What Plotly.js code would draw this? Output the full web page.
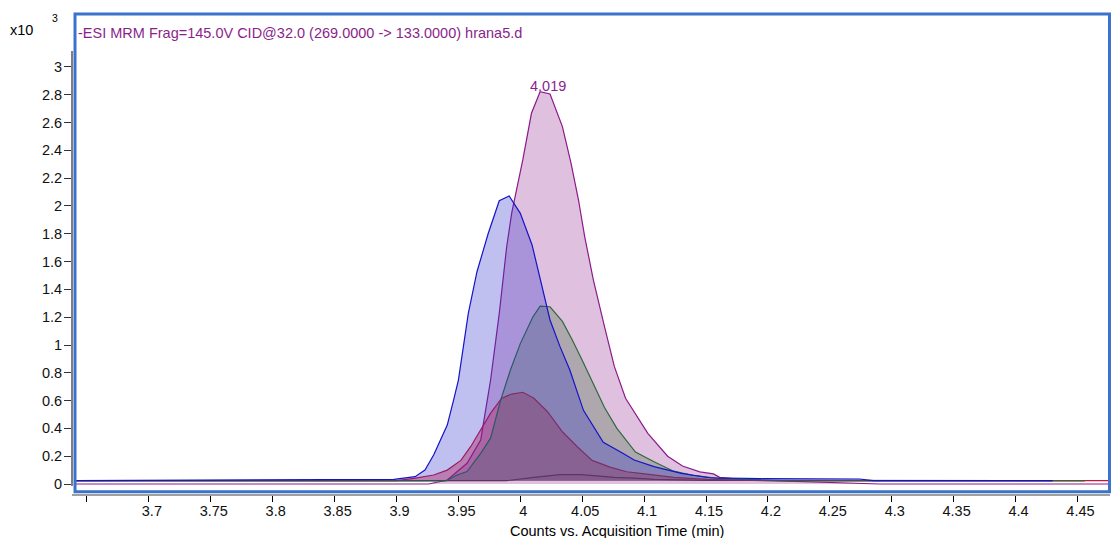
<!DOCTYPE html>
<html>
<head>
<meta charset="utf-8">
<script src="https://cdn.plot.ly/plotly-3.0.1.min.js"></script>
<style>
  html, body { margin: 0; padding: 0; background: #fff; }
  #chart { width: 1112px; height: 538px; }
</style>
</head>
<body>
<div id="chart"></div>
<script>
// ---- data (time in min, counts in x10^3) ----
const titleText = "-ESI MRM Frag=145.0V CID@32.0 (269.0000 -> 133.0000) hrana5.d";
const peakLabel = "4.019";
const peakRT = 4.019;
const xTitle = "Counts vs. Acquisition Time (min)";

const xTickVals = [3.65, 3.7, 3.75, 3.8, 3.85, 3.9, 3.95, 4.0, 4.05, 4.1, 4.15, 4.2, 4.25, 4.3, 4.35, 4.4, 4.45];
const xTickText = ["", "3.7", "3.75", "3.8", "3.85", "3.9", "3.95", "4", "4.05", "4.1", "4.15", "4.2", "4.25", "4.3", "4.35", "4.4", "4.45"];
const yTickVals = [0, 0.2, 0.4, 0.6, 0.8, 1.0, 1.2, 1.4, 1.6, 1.8, 2.0, 2.2, 2.4, 2.6, 2.8, 3.0];
const yTickText = ["0", "0.2", "0.4", "0.6", "0.8", "1", "1.2", "1.4", "1.6", "1.8", "2", "2.2", "2.4", "2.6", "2.8", "3"];

const magX = [3.640, 3.926, 3.941, 3.957, 3.968, 3.973, 3.976, 3.983, 3.989, 3.993, 3.997, 4.002, 4.009, 4.016, 4.024, 4.034, 4.041, 4.047, 4.052, 4.059, 4.068, 4.076, 4.085, 4.103, 4.119, 4.131, 4.145, 4.156, 4.161, 4.180, 4.290, 4.478];
const magY = [0.000, 0.000, 0.029, 0.149, 0.317, 0.600, 0.748, 1.228, 1.707, 1.947, 2.120, 2.331, 2.667, 2.822, 2.806, 2.571, 2.307, 2.043, 1.780, 1.468, 1.132, 0.844, 0.617, 0.365, 0.200, 0.129, 0.087, 0.073, 0.048, 0.031, 0.000, 0.000];
const magBase = 0.0;

const darkX = [3.640, 3.989, 4.011, 4.024, 4.032, 4.049, 4.060, 4.076, 4.092, 4.108, 4.150, 4.430];
const darkY = [0.024, 0.024, 0.048, 0.062, 0.067, 0.067, 0.058, 0.048, 0.043, 0.034, 0.026, 0.024];
const darkBase = 0.024;

const redX = [3.640, 3.900, 3.914, 3.930, 3.941, 3.952, 3.960, 3.968, 3.976, 3.985, 3.993, 4.002, 4.011, 4.022, 4.034, 4.046, 4.058, 4.073, 4.086, 4.097, 4.108, 4.124, 4.151, 4.200, 4.478];
const redY = [0.024, 0.024, 0.041, 0.065, 0.100, 0.170, 0.270, 0.390, 0.510, 0.617, 0.647, 0.660, 0.617, 0.520, 0.376, 0.268, 0.170, 0.120, 0.088, 0.077, 0.065, 0.048, 0.034, 0.024, 0.024];
const redBase = 0.024;

const greenX = [3.640, 3.940, 3.949, 3.957, 3.968, 3.976, 3.984, 3.992, 4.000, 4.010, 4.016, 4.024, 4.034, 4.042, 4.050, 4.059, 4.068, 4.078, 4.093, 4.108, 4.123, 4.139, 4.158, 4.186, 4.220, 4.456];
const greenY = [0.022, 0.022, 0.065, 0.090, 0.220, 0.330, 0.600, 0.820, 1.010, 1.200, 1.280, 1.275, 1.170, 1.036, 0.890, 0.720, 0.550, 0.400, 0.230, 0.160, 0.095, 0.063, 0.043, 0.031, 0.022, 0.022];
const greenBase = 0.022;

const blueX = [3.640, 3.898, 3.915, 3.923, 3.930, 3.941, 3.946, 3.950, 3.958, 3.965, 3.974, 3.983, 3.991, 4.000, 4.0095, 4.016, 4.024, 4.032, 4.040, 4.051, 4.067, 4.081, 4.092, 4.108, 4.130, 4.153, 4.194, 4.274, 4.285, 4.430];
const blueY = [0.024, 0.034, 0.053, 0.100, 0.209, 0.424, 0.600, 0.748, 1.228, 1.527, 1.800, 2.038, 2.072, 1.947, 1.720, 1.468, 1.180, 0.990, 0.820, 0.530, 0.300, 0.230, 0.173, 0.125, 0.077, 0.045, 0.038, 0.036, 0.024, 0.024];
const blueBase = 0.024;

// ---- styles ----
const series = [
  {x: magX,   y: magY,   base: magBase,   line: "#8b1a8b", fill: "rgba(150,50,150,0.30)"},
  {x: darkX,  y: darkY,  base: darkBase,  line: "#4a2848", fill: "rgba(60,30,60,0.15)"},
  {x: redX,   y: redY,   base: redBase,   line: "#c8143c", fill: "rgba(231,23,37,0.40)"},
  {x: greenX, y: greenY, base: greenBase, line: "#2d6a3a", fill: "rgba(64,112,64,0.30)"},
  {x: blueX,  y: blueY,  base: blueBase,  line: "#1414c8", fill: "rgba(45,45,205,0.30)"}
];

const traces = [];
series.forEach(s => {
  const x0 = s.x[0], x1 = s.x[s.x.length - 1];
  traces.push({type: "scatter", mode: "lines", x: [x0, x1], y: [s.base, s.base],
    line: {width: 0, color: "rgba(0,0,0,0)"}, hoverinfo: "skip", showlegend: false});
  traces.push({type: "scatter", mode: "lines", x: s.x, y: s.y, fill: "tonexty",
    fillcolor: s.fill, line: {color: s.line, width: 1.2}, showlegend: false});
});

const purple = "#8b1f8b";
const font = "Liberation Sans, Arial, sans-serif";
const fs = 14.5;

const layout = {
  width: 1112, height: 538,
  margin: {l: 72, r: 2, t: 15, b: 44},
  paper_bgcolor: "#fff", plot_bgcolor: "#fff",
  showlegend: false,
  font: {family: font, size: fs, color: "#000"},
  xaxis: {
    range: [3.6379, 4.4763],
    tickvals: xTickVals, ticktext: xTickText,
    ticks: "outside", ticklen: 6, tickwidth: 1, tickcolor: "#000",
    showline: true, linecolor: "#a0a0a0", linewidth: 2,
    showgrid: false, zeroline: false,
    ticklabelshift: 3, ticklabelstandoff: -3,
    tickfont: {family: font, size: fs, color: "#111"}
  },
  yaxis: {
    range: [-0.0719, 3.374],
    tickvals: yTickVals, ticktext: yTickText,
    ticks: "outside", ticklen: 7, tickwidth: 1, tickcolor: "#333",
    showline: false, showgrid: false, zeroline: false,
    ticklabelstandoff: -1,
    tickfont: {family: font, size: fs, color: "#111"}
  },
  shapes: [
    {type: "line", xref: "paper", yref: "y", x0: 0, x1: 0, y0: -0.014, y1: 3.115,
     line: {color: "#000", width: 1}},
    {type: "rect", xref: "paper", yref: "paper", x0: 0.0029, x1: 0.9995, y0: 0.0048, y1: 1.002,
     line: {color: "#3b72cc", width: 3}, fillcolor: "rgba(0,0,0,0)"}
  ],
  annotations: [
    {text: "x10", xref: "paper", yref: "paper", x: -0.0617, y: 0.9687, xanchor: "left", yanchor: "middle",
     showarrow: false, font: {family: font, size: fs, color: "#000"}},
    {text: "3", xref: "paper", yref: "paper", x: -0.0212, y: 0.9937, xanchor: "left", yanchor: "middle",
     showarrow: false, font: {family: font, size: 10.5, color: "#000"}},
    {text: titleText, xref: "paper", yref: "paper", x: 0.0038, y: 0.9624, xanchor: "left", yanchor: "middle",
     showarrow: false, font: {family: font, size: fs, color: purple}},
    {text: peakLabel, xref: "x", yref: "y", x: peakRT, y: 2.863, xanchor: "center", yanchor: "middle",
     xshift: 4, showarrow: false, font: {family: font, size: fs, color: purple}},
    {text: xTitle, xref: "paper", yref: "paper", x: 0.525, y: -0.0772, xanchor: "center", yanchor: "middle",
     showarrow: false, font: {family: font, size: fs, color: "#000"}}
  ]
};

Plotly.newPlot("chart", traces, layout, {staticPlot: true, displayModeBar: false});
</script>
</body>
</html>
